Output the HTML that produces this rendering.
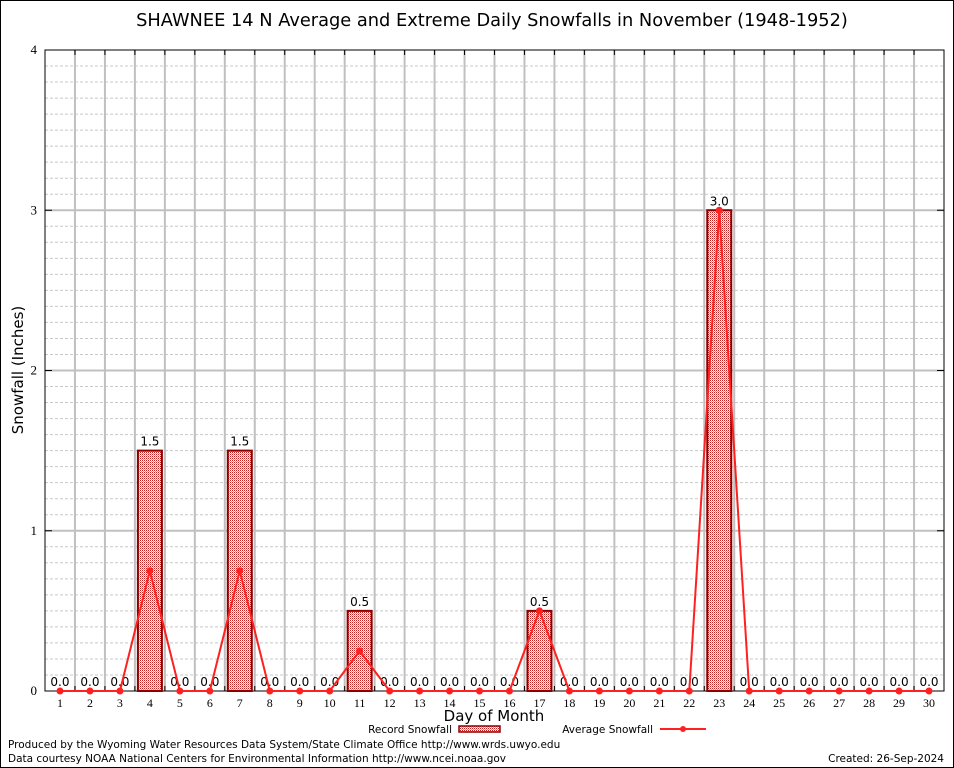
<!DOCTYPE html>
<html><head><meta charset="utf-8"><style>
body{margin:0;background:#fff}
svg{display:block}
text{font-family:"DejaVu Sans","Liberation Sans",sans-serif}
.ser{font-family:"Liberation Serif",serif}
</style></head><body>
<svg id="chart" width="954" height="768" xmlns="http://www.w3.org/2000/svg">
<defs>
<pattern id="chk" width="2" height="2" patternUnits="userSpaceOnUse">
<rect width="2" height="2" fill="#fff"/><rect width="1" height="1" fill="#c02020"/><rect x="1" y="1" width="1" height="1" fill="#e09090"/>
</pattern>
</defs>
<rect x="0.5" y="0.5" width="953" height="767" fill="#fff" stroke="#000"/>
<text x="492" y="26" font-size="17.8" text-anchor="middle">SHAWNEE 14 N Average and Extreme Daily Snowfalls in November (1948-1952)</text>
<g id="grid"></g>
<g id="marks"></g>
<text transform="translate(23,370) rotate(-90)" font-size="15" text-anchor="middle">Snowfall (Inches)</text>
<text x="494" y="721" font-size="15" text-anchor="middle">Day of Month</text>
<g>
<text x="452" y="733" font-size="10.5" text-anchor="end">Record Snowfall</text>
<rect x="459" y="726" width="41" height="6" fill="url(#chk)" stroke="#8b0000" stroke-width="1.5"/>
</g>
<g>
<text x="653" y="733" font-size="10.5" text-anchor="end">Average Snowfall</text>
<line x1="660" y1="729" x2="706" y2="729" stroke="#ff2020" stroke-width="2"/>
<circle cx="683" cy="729" r="3" fill="#ff2020"/>
</g>
<text x="8" y="748" font-size="10.5">Produced by the Wyoming Water Resources Data System/State Climate Office http://www.wrds.uwyo.edu</text>
<text x="8" y="762" font-size="10.5">Data courtesy NOAA National Centers for Environmental Information http://www.ncei.noaa.gov</text>
<text x="944" y="762" font-size="10.5" text-anchor="end">Created:  26-Sep-2024</text>
</svg>
<script>
const days=[1,2,3,4,5,6,7,8,9,10,11,12,13,14,15,16,17,18,19,20,21,22,23,24,25,26,27,28,29,30];
const recordSnow=[0,0,0,1.5,0,0,1.5,0,0,0,0.5,0,0,0,0,0,0.5,0,0,0,0,0,3.0,0,0,0,0,0,0,0];
const avgSnow=[0,0,0,0.75,0,0,0.75,0,0,0,0.25,0,0,0,0,0,0.5,0,0,0,0,0,3.0,0,0,0,0,0,0,0];
const yTicks=[0,1,2,3,4];
const NS="http://www.w3.org/2000/svg";
const L=45,R=944,T=50,B=691,yMax=4;
const bw=(R-L)/days.length;
const x=d=>L+(d-0.5)*bw;
const y=v=>B-(v/yMax)*(B-T);
function mk(tag,attrs,parent,txt){const e=document.createElementNS(NS,tag);for(const k in attrs)e.setAttribute(k,attrs[k]);if(txt!==undefined)e.textContent=txt;parent.appendChild(e);return e;}
const grid=document.getElementById('grid'),marks=document.getElementById('marks');
for(let v=0.1;v<yMax-0.01;v+=0.1){if(Math.abs(v-Math.round(v))<0.01)continue;mk('line',{x1:L,x2:R,y1:y(v),y2:y(v),stroke:'#c8c8c8','stroke-dasharray':'3,2','stroke-width':1},grid);}
for(let i=1;i<days.length;i++){const gx=L+i*bw;mk('line',{x1:gx,x2:gx,y1:T,y2:B,stroke:'#c0c0c0','stroke-width':2},grid);
mk('line',{x1:gx,x2:gx,y1:T,y2:T+5,stroke:'#000'},grid);mk('line',{x1:gx,x2:gx,y1:B,y2:B-5,stroke:'#000'},grid);}
yTicks.forEach(t=>{if(t>0&&t<yMax)mk('line',{x1:L,x2:R,y1:y(t),y2:y(t),stroke:'#c0c0c0','stroke-width':2},grid);
mk('line',{x1:L,x2:L+7,y1:y(t),y2:y(t),stroke:'#000'},grid);mk('line',{x1:R,x2:R-7,y1:y(t),y2:y(t),stroke:'#000'},grid);
const tl=mk('text',{x:L-8,y:y(t)+4,'font-size':13,'text-anchor':'end','class':'ser'},grid,String(t));

});
const fr=mk('rect',{x:L,y:T,width:R-L,height:B-T,fill:'none',stroke:'#000'},grid);


days.forEach((d,i)=>{
const tl=mk('text',{x:x(d),y:B+16,'font-size':12,'text-anchor':'middle','class':'ser'},grid,String(d));


const v=recordSnow[i];
if(v>0){const r=mk('rect',{x:x(d)-12,y:y(v),width:24,height:B-y(v),fill:'url(#chk)',stroke:'#8b0000','stroke-width':2},marks);

}
const lb=mk('text',{x:x(d),y:y(v)-5,'font-size':12,'text-anchor':'middle'},marks,v.toFixed(1));


});
const pl=mk('polyline',{points:days.map((d,i)=>x(d)+','+y(avgSnow[i])).join(' '),fill:'none',stroke:'#ff2020','stroke-width':2},marks);


days.forEach((d,i)=>{const c=mk('circle',{cx:x(d),cy:y(avgSnow[i]),r:3.5,fill:'#ff2020'},marks);

});
</script>
</body></html>
